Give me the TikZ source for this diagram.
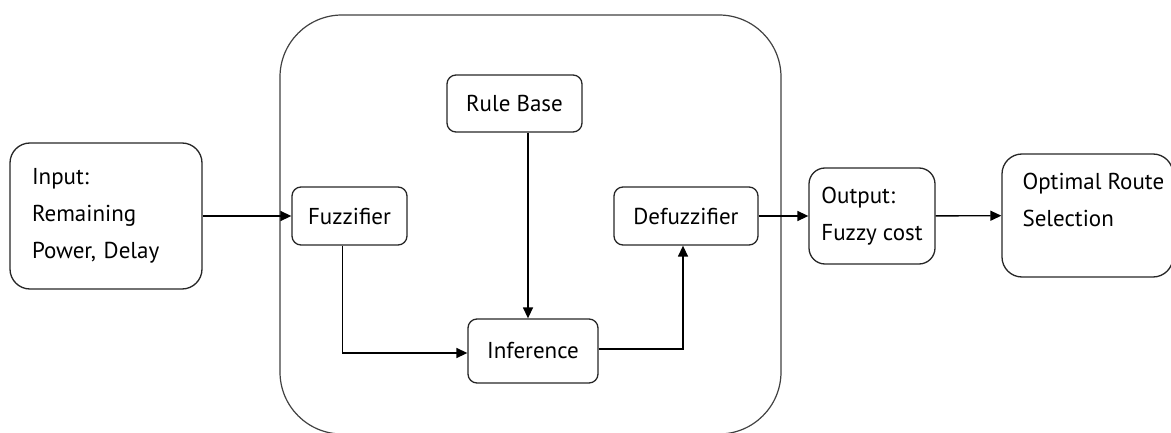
\documentclass[tikz,border=0pt]{standalone}
\usepackage{fontspec}
\setmainfont{PT Sans}
\usetikzlibrary{arrows.meta}

\tikzset{
  blk/.style={draw=black!85, line width=1.3pt, rounded corners=9pt, align=left,
    font=\fontsize{23}{37}\selectfont, text=black},
  arr/.style={line width=1.4pt, draw=black, -{Triangle[length=11pt,width=10pt]}}
}

\begin{document}
\begin{tikzpicture}[x=1pt,y=1pt]
\useasboundingbox (0,0) rectangle (1171,432);
% the fuzzy system frame
\node[draw=black!75, line width=1.2pt, rounded corners=62pt, minimum width=501pt, minimum height=419pt] (fis) at (530.5,207.5) {};
\node[blk, rounded corners=20pt, text width=148pt, inner xsep=22pt, minimum height=146pt] (in) at (106,216) {Input:\\Remaining\\Power, Delay};
\node[blk, minimum width=115pt, minimum height=58pt] (fz) at (349.5,216) {Fuzzifier};
\node[blk, minimum width=135pt, minimum height=57pt] (rb) at (514.5,328.5) {Rule Base};
\node[blk, minimum width=130pt, minimum height=64pt] (inf) at (533,81) {Inference};
\node[blk, minimum width=144pt, minimum height=58pt] (dz) at (686,216) {Defuzzifier};
\node[blk, rounded corners=16pt, minimum width=126pt, minimum height=96pt] (out) at (872,216) {Output:\\Fuzzy cost};
\node[blk, rounded corners=20pt, minimum width=171pt, minimum height=123pt] (opt) at (1087.5,216.5) {};
\node[font=\fontsize{23}{37}\selectfont, text=black, align=left, anchor=north west, inner sep=0pt] (optTxt) at ([shift={(21,-20)}]opt.north west) {Optimal Route\\Selection};
% connectors
\draw[arr] (in) -- (fz);
\draw[arr] ([xshift=13.5pt]rb.south) -- ([xshift=13.5pt]rb.south |- inf.north);
\draw[arr] ([xshift=-7pt]fz.south) |- ([yshift=-2pt]inf.west);
\draw[arr] ([yshift=2pt]inf.east) -| ([xshift=-3pt]dz.south);
\draw[arr] (dz) -- (out);
\draw[arr] (out) -- (opt);
\end{tikzpicture}
\end{document}
